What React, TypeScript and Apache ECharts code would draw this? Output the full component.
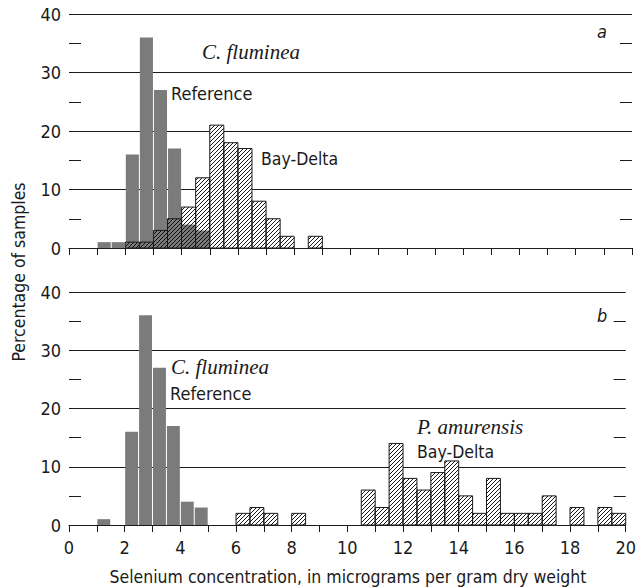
import React, { useEffect, useRef } from "react";
import * as echarts from "echarts";

const BIN = 0.5;
// Panel a
const refTopStarts = [1.0, 1.5, 2.0, 2.5, 3.0, 3.5, 4.0, 4.5];
const refTopValues = [1, 1, 16, 36, 27, 17, 4, 3];
const bayTopStarts = [2.0, 2.5, 3.0, 3.5, 4.0, 4.5, 5.0, 5.5, 6.0, 6.5, 7.0, 7.5, 8.5];
const bayTopValues = [1, 1, 3, 5, 7, 12, 21, 18, 17, 8, 5, 2, 2];
// Panel b
const refBotStarts = [1.0, 2.0, 2.5, 3.0, 3.5, 4.0, 4.5];
const refBotValues = [1, 16, 36, 27, 17, 4, 3];
const bayBotStarts = [6.0, 6.5, 7.0, 8.0, 10.5, 11.0, 11.5, 12.0, 12.5, 13.0, 13.5, 14.0, 14.5, 15.0, 15.5, 16.0, 16.5, 17.0, 18.0, 19.0, 19.5];
const bayBotValues = [2, 3, 2, 2, 6, 3, 14, 8, 6, 9, 11, 5, 2, 8, 2, 2, 2, 5, 3, 3, 2];

const xTickLabels = ["0", "2", "4", "6", "8", "10", "12", "14", "16", "18", "20"];
const yTickLabels = ["0", "10", "20", "30", "40"];

const SANS = "'Liberation Sans Narrow', 'DejaVu Sans Condensed', 'Roboto', sans-serif";
const SERIF = "'Liberation Serif', 'DejaVu Serif', serif";
const INK = "#1a1a1a";

const toData = (starts: number[], values: number[]) => starts.map((s, i) => [s, values[i]]);

export default function App() {
  const ref = useRef<HTMLDivElement>(null);
  useEffect(() => {
    if (!ref.current) return;
    const chart = echarts.init(ref.current, undefined, { renderer: "svg" });

    const tile = document.createElement("canvas");
    tile.width = 4;
    tile.height = 4;
    const ctx = tile.getContext("2d")!;
    ctx.strokeStyle = "#000";
    ctx.lineWidth = 0.9;
    ctx.beginPath();
    ctx.moveTo(0, 4);
    ctx.lineTo(4, 0);
    ctx.moveTo(-1, 1);
    ctx.lineTo(1, -1);
    ctx.moveTo(3, 5);
    ctx.lineTo(5, 3);
    ctx.stroke();
    const hatch: any = { image: tile, repeat: "repeat" };

    const rectOf = (api: any) => {
      const s = api.value(0);
      const v = api.value(1);
      const a = api.coord([s, v]);
      const b = api.coord([s + BIN, 0]);
      return { x: a[0], y: a[1], w: b[0] - a[0], h: b[1] - a[1] };
    };

    const whiteBase = (_p: any, api: any) => {
      const r = rectOf(api);
      return { type: "rect", shape: { x: r.x, y: r.y, width: r.w, height: r.h }, style: { fill: "#fff" } };
    };
    const grayBar = (_p: any, api: any) => {
      const r = rectOf(api);
      return {
        type: "rect",
        shape: { x: r.x + 0.5, y: r.y, width: r.w - 1, height: r.h },
        style: { fill: "#7b7b7b" },
      };
    };
    const hatchBar = (_p: any, api: any) => {
      const r = rectOf(api);
      return {
        type: "rect",
        shape: { x: r.x, y: r.y, width: r.w, height: r.h },
        style: { fill: hatch, stroke: INK, lineWidth: 1 },
      };
    };

    const xAxisBase = (gridIndex: number, showLabel: boolean) => ({
      type: "value",
      gridIndex,
      min: 0,
      max: 20,
      interval: 1,
      axisLine: { show: true, onZero: false, lineStyle: { color: INK, width: 1 } },
      axisTick: { show: true, inside: false, length: 7, lineStyle: { color: INK, width: 1 } },
      axisLabel: {
        show: showLabel,
        margin: 13,
        fontFamily: SANS,
        fontSize: 18,
        color: INK,
        formatter: (v: number) => {
          const s = String(v);
          return xTickLabels.indexOf(s) >= 0 ? s : "";
        },
      },
      splitLine: { show: false },
    });

    const yAxisBase = (gridIndex: number, position: string, showLabel: boolean) => ({
      type: "value",
      gridIndex,
      position,
      min: 0,
      max: 40,
      interval: 10,
      axisLine: { show: false },
      axisTick: { show: false, inside: true },
      minorTick: { show: true, splitNumber: 2, length: 12, lineStyle: { color: INK, width: 1 } },
      axisLabel: {
        show: showLabel,
        margin: 8,
        fontFamily: SANS,
        fontSize: 18,
        color: INK,
        formatter: (v: number) => (yTickLabels.indexOf(String(v)) >= 0 ? String(v) : ""),
      },
      splitLine: { show: showLabel, lineStyle: { color: INK, width: 1 } },
      minorSplitLine: { show: false },
    });

    const series: any[] = [];
    const addPanel = (idx: number, refData: number[][], bayData: number[][]) => {
      const common = { type: "custom", xAxisIndex: idx, yAxisIndex: idx * 2, encode: { x: 0, y: 1 }, silent: true };
      series.push({ ...common, data: bayData, renderItem: whiteBase });
      series.push({ ...common, data: refData, renderItem: grayBar });
      series.push({ ...common, data: bayData, renderItem: hatchBar });
    };
    addPanel(0, toData(refTopStarts, refTopValues), toData(bayTopStarts, bayTopValues));
    addPanel(1, toData(refBotStarts, refBotValues), toData(bayBotStarts, bayBotValues));

    const txt = (text: string, x: number, y: number, font: string, size: number, italic = false, extra: any = {}) => ({
      type: "text",
      x,
      y,
      style: {
        text,
        fontFamily: font,
        fontSize: size,
        fontStyle: italic ? "italic" : "normal",
        fill: INK,
        verticalAlign: "middle",
        align: "left",
        ...extra,
      },
      z: 100,
    });

    chart.setOption({
      animation: false,
      backgroundColor: "#fff",
      grid: [
        { left: 69, right: 7, top: 14, height: 234 },
        { left: 69, right: 7, top: 292, height: 233 },
      ],
      xAxis: [xAxisBase(0, false), xAxisBase(1, true)],
      yAxis: [
        yAxisBase(0, "left", true),
        yAxisBase(0, "right", false),
        yAxisBase(1, "left", true),
        yAxisBase(1, "right", false),
      ],
      series,
      graphic: [
        txt("C. fluminea", 202, 52, SERIF, 21, true),
        txt("Reference", 171, 93, SANS, 18),
        txt("Bay-Delta", 261, 159, SANS, 17.5),
        txt("a", 597, 31, SANS, 18, true),
        txt("C. fluminea", 171, 367, SERIF, 21, true),
        txt("Reference", 170, 393, SANS, 18),
        txt("P. amurensis", 417, 427, SERIF, 21, true),
        txt("Bay-Delta", 417, 452, SANS, 17.5),
        txt("b", 597, 315, SANS, 18, true),
        txt("Selenium concentration, in micrograms per gram dry weight", 348, 577, SANS, 17.5, false, { align: "center" }),
        {
          type: "text",
          x: 19,
          y: 272,
          rotation: Math.PI / 2,
          style: {
            text: "Percentage of samples",
            fontFamily: SANS,
            fontSize: 17.5,
            fill: INK,
            align: "center",
            verticalAlign: "middle",
          },
          z: 100,
        },
      ],
    });
    return () => chart.dispose();
  }, []);
  return <div ref={ref} style={{ position: "absolute", left: 0, top: 0, width: 639, height: 588 }} />;
}
